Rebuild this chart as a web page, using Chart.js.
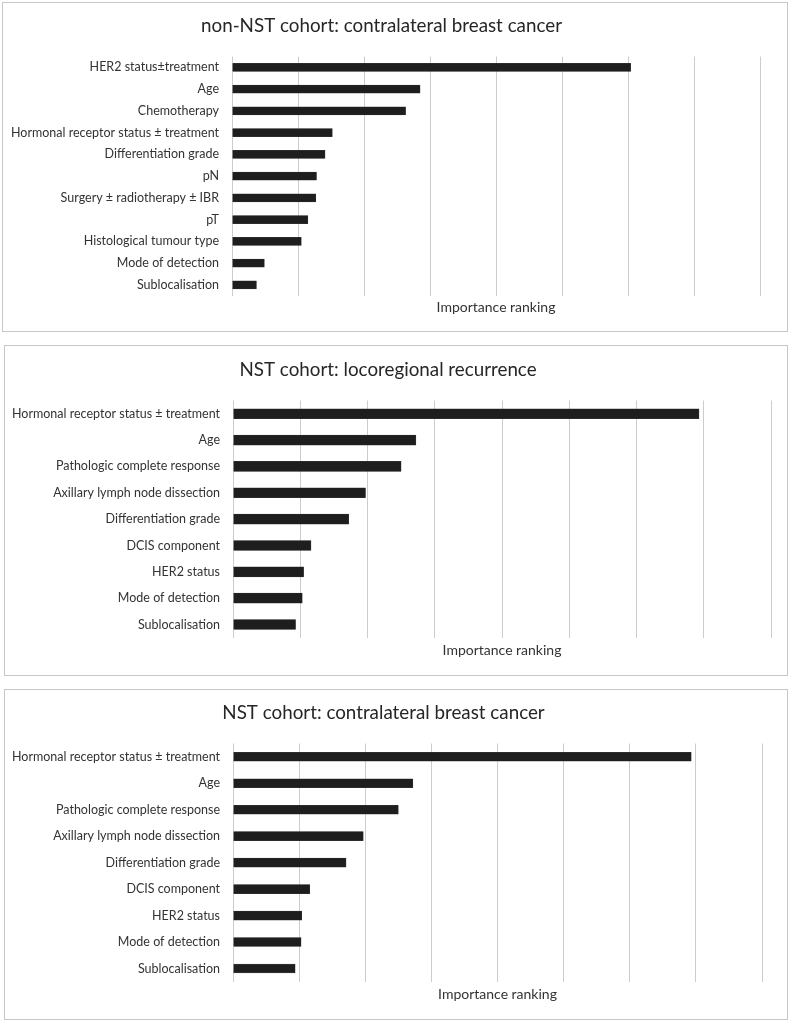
<!DOCTYPE html>
<html>
<head>
<meta charset="utf-8">
<script src="https://cdn.jsdelivr.net/npm/chart.js@4"></script>
<style>
    body { margin: 0; background: #fff; width: 790px; height: 1022px; position: relative; overflow: hidden; }
    .panel { position: absolute; border: 1px solid #c6c6c6; background: #fff; }
    .panel canvas { display: block; }
</style>
</head>
<body>
<div class="panel" id="p1" style="left:2px; top:2px; width:784px; height:328px;"><canvas id="c1" width="784" height="328"></canvas></div>
<div class="panel" id="p2" style="left:4px; top:345px; width:782px; height:329px;"><canvas id="c2" width="782" height="329"></canvas></div>
<div class="panel" id="p3" style="left:4px; top:689px; width:782px; height:329px;"><canvas id="c3" width="782" height="329"></canvas></div>
<script>
// non-NST cohort: contralateral breast cancer
const nonNstCbcLabels = [
    'HER2 status\u00b1treatment',
    'Age',
    'Chemotherapy',
    'Hormonal receptor status \u00b1 treatment',
    'Differentiation grade',
    'pN',
    'Surgery \u00b1 radiotherapy \u00b1 IBR',
    'pT',
    'Histological tumour type',
    'Mode of detection',
    'Sublocalisation'
];
const nonNstCbcValues = [6.04, 2.85, 2.63, 1.52, 1.41, 1.28, 1.27, 1.15, 1.05, 0.49, 0.37];

// NST cohort: locoregional recurrence
const nstLrrLabels = [
    'Hormonal receptor status \u00b1 treatment',
    'Age',
    'Pathologic complete response',
    'Axillary lymph node dissection',
    'Differentiation grade',
    'DCIS component',
    'HER2 status',
    'Mode of detection',
    'Sublocalisation'
];
const nstLrrValues = [6.93, 2.72, 2.50, 1.97, 1.72, 1.16, 1.05, 1.03, 0.93];

// NST cohort: contralateral breast cancer
const nstCbcLabels = nstLrrLabels.slice();
const nstCbcValues = [6.93, 2.72, 2.50, 1.97, 1.71, 1.16, 1.04, 1.03, 0.94];

const axisMax = 8;
const FONT = 'Lato, "Open Sans", sans-serif';
const TEXT = '#333333';
const GRID = '#cccccc';

function makeChart(id, title, labels, values, opts) {
    const ctx = document.getElementById(id).getContext('2d');
    return new Chart(ctx, {
        type: 'bar',
        data: {
            labels: labels,
            datasets: [{
                data: values,
                backgroundColor: '#1e1e1e',
                borderColor: '#3a3a3a',
                borderWidth: 0.5,
                barThickness: opts.bar
            }]
        },
        options: {
            indexAxis: 'y',
            responsive: false,
            animation: false,
            layout: {
                padding: { left: 0, right: opts.right, top: 0, bottom: opts.bottom }
            },
            scales: {
                x: {
                    min: 0,
                    max: axisMax,
                    ticks: { display: false, stepSize: 1 },
                    grid: { color: GRID, lineWidth: 1, drawTicks: false },
                    border: { display: false },
                    title: {
                        display: true,
                        text: 'Importance ranking',
                        color: TEXT,
                        font: { family: FONT, size: 14 },
                        padding: { top: opts.axisTitleGap, bottom: 0 }
                    }
                },
                y: {
                    grid: { display: false, drawTicks: false },
                    border: { display: false },
                    ticks: {
                        color: TEXT,
                        font: { family: FONT, size: 12.5 },
                        padding: 13
                    },
                    afterFit: (scale) => { scale.width = opts.left; }
                }
            },
            plugins: {
                legend: { display: false },
                tooltip: { enabled: false },
                title: {
                    display: true,
                    text: title,
                    color: '#262626',
                    font: { family: FONT, size: 18.8, weight: 'normal' },
                    padding: { top: opts.titleTop, bottom: opts.titleBottom }
                }
            }
        }
    });
}

makeChart('c1', 'non-NST cohort: contralateral breast cancer', nonNstCbcLabels, nonNstCbcValues,
    { bar: 8, left: 229, right: 27, bottom: 15, titleTop: 12, titleBottom: 19, axisTitleGap: 3.5 });
makeChart('c2', 'NST cohort: locoregional recurrence', nstLrrLabels, nstLrrValues,
    { bar: 10, left: 228, right: 16, bottom: 16, titleTop: 13, titleBottom: 19, axisTitleGap: 4.5 });
makeChart('c3', 'NST cohort: contralateral breast cancer', nstCbcLabels, nstCbcValues,
    { bar: 9, left: 228, right: 25, bottom: 16, titleTop: 12, titleBottom: 19, axisTitleGap: 4.5 });
</script>
</body>
</html>
